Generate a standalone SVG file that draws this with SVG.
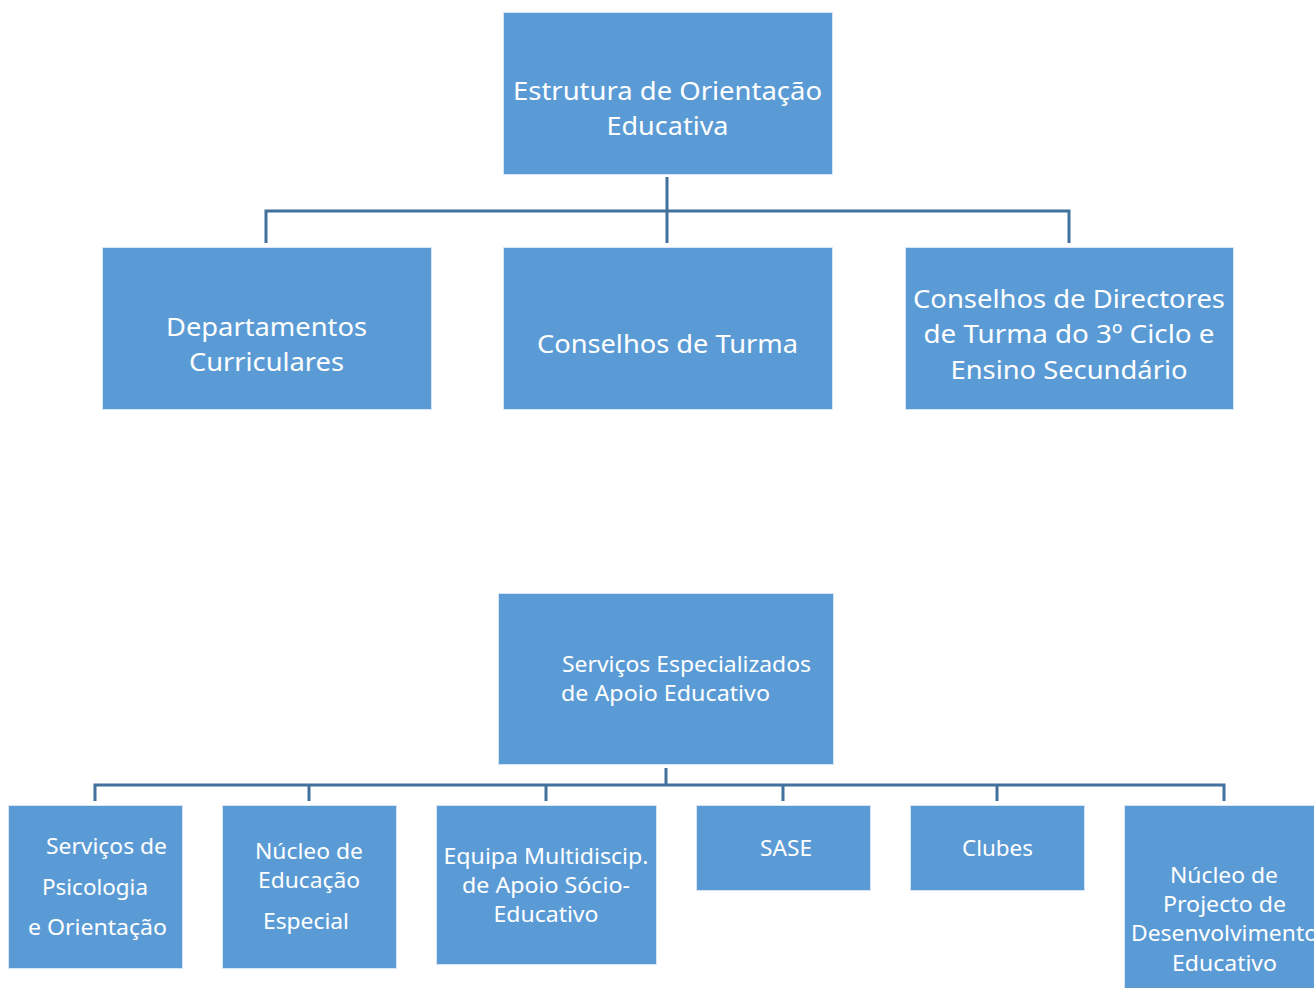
<svg xmlns="http://www.w3.org/2000/svg" width="1314" height="988" viewBox="0 0 1314 988">
<style>
.box{fill:#5B9BD5;stroke:#d6e4f3;stroke-width:1}
.t{fill:#fff;font-family:"Noto Sans","Open Sans","Liberation Sans",sans-serif;font-size:26px}
.s{fill:#fff;font-family:"Noto Sans","Open Sans","Liberation Sans",sans-serif;font-size:21px}
.m{text-anchor:middle}
.c{fill:none;stroke:#41719C;stroke-width:3}
</style>
<rect width="1314" height="988" fill="#fff"/>
<g id="connectors">
<path class="c" d="M667,177V243M266,243V211H1069V243"/>
<path class="c" d="M666,768V784M95,801V785H1224V801M309,785V801M546,785V801M783,785V801M997,785V801"/>
</g>
<g id="n-estrutura">
<rect class="box" x="503.5" y="12.5" width="329" height="162"/>
<text class="t m" x="667.5" y="100" textLength="309" lengthAdjust="spacingAndGlyphs">Estrutura de Orientação</text>
<text class="t m" x="667.5" y="135" textLength="122" lengthAdjust="spacingAndGlyphs">Educativa</text>
</g>
<g id="n-departamentos">
<rect class="box" x="102.5" y="247.5" width="329" height="162"/>
<text class="t m" x="266.5" y="336" textLength="201" lengthAdjust="spacingAndGlyphs">Departamentos</text>
<text class="t m" x="266.5" y="371" textLength="155" lengthAdjust="spacingAndGlyphs">Curriculares</text>
</g>
<g id="n-conselhos-turma">
<rect class="box" x="503.5" y="247.5" width="329" height="162"/>
<text class="t m" x="667.5" y="353" textLength="261" lengthAdjust="spacingAndGlyphs">Conselhos de Turma</text>
</g>
<g id="n-conselhos-directores">
<rect class="box" x="905.5" y="247.5" width="328" height="162"/>
<text class="t m" x="1069" y="308" textLength="312" lengthAdjust="spacingAndGlyphs">Conselhos de Directores</text>
<text class="t m" x="1069" y="343" textLength="291" lengthAdjust="spacingAndGlyphs">de Turma do 3º Ciclo e</text>
<text class="t m" x="1069" y="379" textLength="237" lengthAdjust="spacingAndGlyphs">Ensino Secundário</text>
</g>
<g id="n-servicos-especializados">
<rect class="box" x="498.5" y="593.5" width="335" height="171"/>
<text class="s" x="562" y="672" textLength="249" lengthAdjust="spacingAndGlyphs">Serviços Especializados</text>
<text class="s" x="561" y="701" textLength="209" lengthAdjust="spacingAndGlyphs">de Apoio Educativo</text>
</g>
<g id="n-psicologia">
<rect class="box" x="8.5" y="805.5" width="174" height="163"/>
<text class="s" x="46" y="854" textLength="121" lengthAdjust="spacingAndGlyphs">Serviços de</text>
<text class="s" x="42" y="895" textLength="106" lengthAdjust="spacingAndGlyphs">Psicologia</text>
<text class="s" x="28" y="935" textLength="139" lengthAdjust="spacingAndGlyphs">e Orientação</text>
</g>
<g id="n-educacao-especial">
<rect class="box" x="222.5" y="805.5" width="174" height="163"/>
<text class="s m" x="309" y="859" textLength="108" lengthAdjust="spacingAndGlyphs">Núcleo de</text>
<text class="s m" x="309" y="888" textLength="102" lengthAdjust="spacingAndGlyphs">Educação</text>
<text class="s m" x="306" y="929" textLength="86" lengthAdjust="spacingAndGlyphs">Especial</text>
</g>
<g id="n-equipa">
<rect class="box" x="436.5" y="805.5" width="220" height="159"/>
<text class="s m" x="546" y="864" textLength="205" lengthAdjust="spacingAndGlyphs">Equipa Multidiscip.</text>
<text class="s m" x="546" y="893" textLength="168" lengthAdjust="spacingAndGlyphs">de Apoio Sócio-</text>
<text class="s m" x="546" y="922" textLength="105" lengthAdjust="spacingAndGlyphs">Educativo</text>
</g>
<g id="n-sase">
<rect class="box" x="696.5" y="805.5" width="174" height="85"/>
<text class="s m" x="786" y="856" textLength="52" lengthAdjust="spacingAndGlyphs">SASE</text>
</g>
<g id="n-clubes">
<rect class="box" x="910.5" y="805.5" width="174" height="85"/>
<text class="s m" x="997.5" y="856" textLength="71" lengthAdjust="spacingAndGlyphs">Clubes</text>
</g>
<g id="n-projecto">
<rect class="box" x="1124.5" y="805.5" width="200" height="190"/>
<text class="s m" x="1224" y="883" textLength="108" lengthAdjust="spacingAndGlyphs">Núcleo de</text>
<text class="s m" x="1224.5" y="912" textLength="123" lengthAdjust="spacingAndGlyphs">Projecto de</text>
<text class="s" x="1131" y="941" textLength="187" lengthAdjust="spacingAndGlyphs">Desenvolvimento</text>
<text class="s m" x="1224.5" y="971" textLength="105" lengthAdjust="spacingAndGlyphs">Educativo</text>
</g>
</svg>
